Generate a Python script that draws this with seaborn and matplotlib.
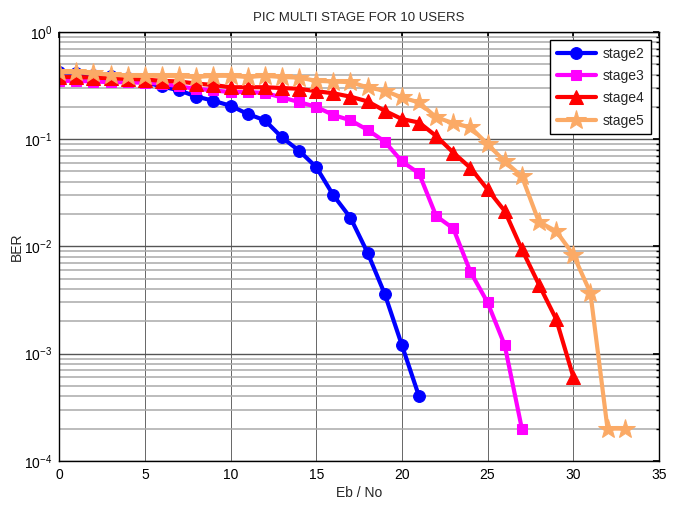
"""
PIC multi stage BER curves for 10 users (log scale).
"""

import matplotlib
matplotlib.use("Agg")
import matplotlib.pyplot as plt
import numpy as np
import seaborn as sns
from matplotlib.ticker import LogLocator, NullFormatter, MultipleLocator

# Eb/No points for each stage
EBNO_STAGE2 = list(range(0, 22))
EBNO_STAGE3 = list(range(0, 28))
EBNO_STAGE4 = list(range(0, 31))
EBNO_STAGE5 = list(range(0, 34))

BER_STAGE2 = [0.42, 0.41, 0.40, 0.39, 0.37, 0.34, 0.31, 0.285, 0.25, 0.228,
              0.205, 0.172, 0.15, 0.104, 0.078, 0.055, 0.030, 0.0185, 0.0087, 0.0036,
              0.0012, 0.0004]
BER_STAGE3 = [0.35, 0.35, 0.345, 0.34, 0.34, 0.335, 0.33, 0.31, 0.295, 0.285,
              0.275, 0.275, 0.27, 0.245, 0.222, 0.2, 0.168, 0.15, 0.122, 0.095,
              0.062, 0.048, 0.0192, 0.0147, 0.0058, 0.0030, 0.0012, 0.0002]
BER_STAGE4 = [0.38, 0.38, 0.375, 0.37, 0.365, 0.36, 0.35, 0.345, 0.33, 0.32,
              0.305, 0.305, 0.305, 0.30, 0.295, 0.28, 0.268, 0.249, 0.225, 0.184,
              0.154, 0.143, 0.107, 0.075, 0.054, 0.034, 0.0214, 0.0094, 0.0044, 0.0021,
              0.00061]
BER_STAGE5 = [0.42, 0.42, 0.41, 0.40, 0.39, 0.39, 0.39, 0.385, 0.38, 0.39,
              0.39, 0.38, 0.39, 0.38, 0.375, 0.35, 0.345, 0.34, 0.304, 0.283,
              0.245, 0.22, 0.16, 0.141, 0.129, 0.09, 0.062, 0.045, 0.0169, 0.0139,
              0.0084, 0.0037, 0.0002, 0.0002]

LABELS = ["stage2", "stage3", "stage4", "stage5"]


def main() -> None:
    sns.set_theme(style="white")
    plt.rcParams["font.family"] = ["Liberation Sans", "DejaVu Sans"]

    fig = plt.figure(figsize=(6.8, 5.07), dpi=100)
    ax = fig.add_axes([0.087, 0.091, 0.882, 0.846])

    series = [
        (EBNO_STAGE2, BER_STAGE2, "#0000FF", "o", 8.5),
        (EBNO_STAGE3, BER_STAGE3, "#FF00FF", "s", 7.5),
        (EBNO_STAGE4, BER_STAGE4, "#FF0000", "^", 9.5),
        (EBNO_STAGE5, BER_STAGE5, "#FBAA66", "*", 15),
    ]
    for (x, y, color, marker, ms), label in zip(series, LABELS):
        sns.lineplot(x=x, y=y, ax=ax, color=color, marker=marker, markersize=ms,
                     markeredgecolor=color, linewidth=3.0, label=label)

    ax.set_yscale("log")
    ax.set_xlim(0, 35)
    ax.set_ylim(1e-4, 1)
    ax.xaxis.set_major_locator(MultipleLocator(5))
    ax.yaxis.set_major_locator(LogLocator(base=10, numticks=10))
    ax.yaxis.set_minor_locator(LogLocator(base=10, subs=np.arange(2, 10), numticks=10))
    ax.yaxis.set_minor_formatter(NullFormatter())

    # matlab-like grid
    ax.grid(True, which="major", axis="x", color="#666666", linewidth=0.7)
    ax.grid(True, which="major", axis="y", color="#555555", linewidth=1.0)
    ax.grid(True, which="minor", axis="y", color="#aaaaaa", linewidth=1.1)

    ax.tick_params(which="both", direction="in", top=True, right=True,
                   labelsize=10, colors="black")
    ax.tick_params(which="major", length=4, pad=5)
    ax.tick_params(which="minor", length=2)
    for spine in ax.spines.values():
        spine.set_color("black")
        spine.set_linewidth(1.0)

    ax.set_title("PIC MULTI STAGE FOR 10 USERS", fontsize=9.5, pad=8)
    ax.set_xlabel("Eb / No", fontsize=10, labelpad=3)
    ax.set_ylabel("BER", fontsize=10, labelpad=0)

    leg = ax.legend(loc="upper right", fontsize=10, frameon=True, fancybox=False,
                    borderaxespad=0.6, handlelength=2.8, labelspacing=0.6,
                    borderpad=0.45, handletextpad=0.5)
    leg.get_frame().set_edgecolor("black")
    leg.get_frame().set_linewidth(1.0)
    leg.get_frame().set_alpha(1.0)

    fig.savefig("out.png", dpi=100)
    plt.close(fig)


if __name__ == "__main__":
    main()
